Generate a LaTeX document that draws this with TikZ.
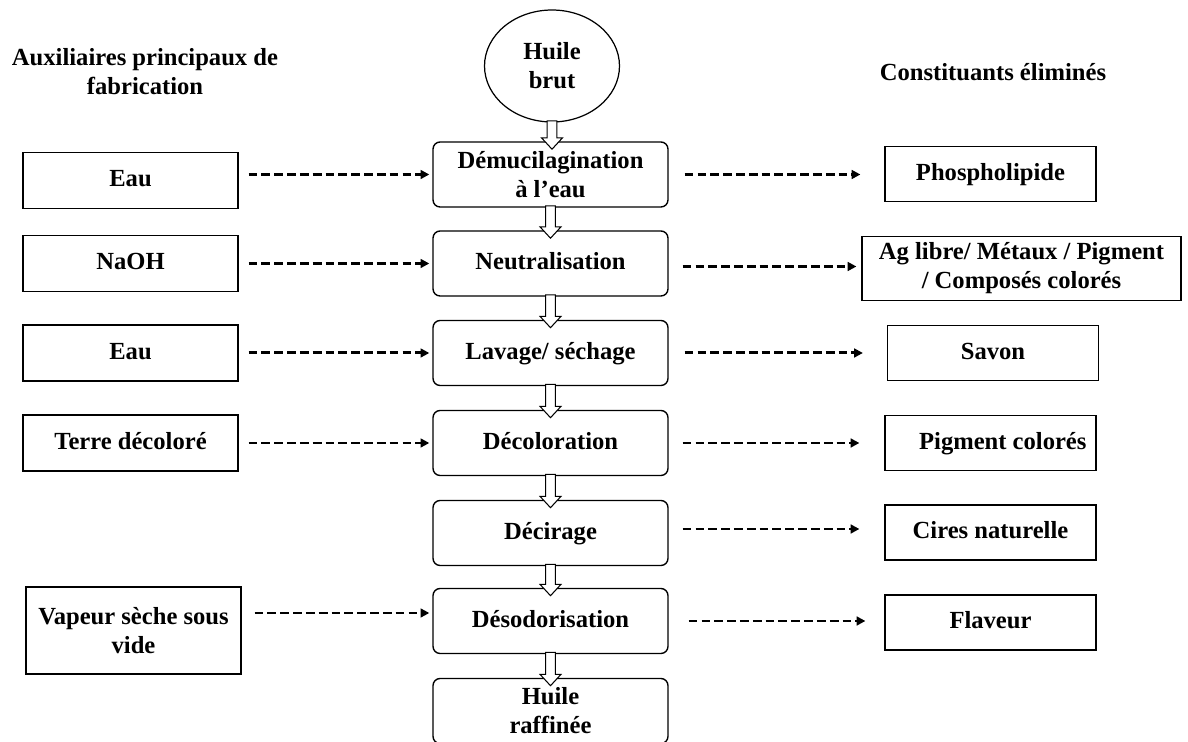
\documentclass[tikz,border=0pt]{standalone}
\usepackage{fontspec}
\setmainfont{Liberation Serif}
\usetikzlibrary{shapes.geometric,arrows.meta,calc}

\newcommand{\hollowarrow}[2]{%
  \draw[hollow] let \p1=(#1.south), \p2=(#2.north) in
    (\x1-2.8pt,\y1+1pt) -- (\x1+2.8pt,\y1+1pt) -- (\x1+2.8pt,\y2+2pt)
    -- (\x1+6pt,\y2+2pt) -- (\x1,\y2-4.5pt) -- (\x1-6pt,\y2+2pt)
    -- (\x1-2.8pt,\y2+2pt) -- cycle;}

\begin{document}
\begin{tikzpicture}[x=0.02cm, y=-0.02cm,
  every node/.style={font=\fontsize{14}{16.5}\selectfont\bfseries},
  title/.style={align=center},
  stage/.style={rectangle, rounded corners=4pt, draw, line width=0.8pt, minimum width=4.7cm, minimum height=1.3cm, text height=2ex, text depth=.5ex, fill=white},
  aux/.style={rectangle, draw, line width=0.7pt, minimum width=4.3cm, minimum height=1.12cm, text height=2ex, text depth=.5ex},
  waste/.style={rectangle, draw, line width=0.7pt, minimum width=4.22cm, minimum height=1.1cm, text height=2ex, text depth=.5ex},
  multi/.style={align=center, text height={}, text depth={}},
  dasharrow/.style={-{Triangle[length=5pt,width=5pt]}, line width=1.7pt, dash pattern=on 5pt off 2.3pt},
  hollow/.style={draw, fill=white, line width=0.6pt}
]
\useasboundingbox (0,0) rectangle (1188,742);

% Titles
\node[title] (auxtitle) at (145,72) {Auxiliaires principaux de\\fabrication};
\node[title] (wastetitle) at (993,72) {Constituants éliminés};

% Main line
\node[ellipse, draw, line width=0.7pt, minimum width=2.7cm, minimum height=2.24cm, align=center] (brut) at (552,66) {Huile\\brut};
\node[stage, multi] (demuc) at (550.5,174.5) {Démucilagination\\à l’eau};
\node[stage] (neutr) at (550.5,263.5) {Neutralisation};
\node[stage] (lavage) at (550.5,353) {Lavage/ séchage};
\node[stage] (decol) at (550.5,443) {Décoloration};
\node[stage] (decir) at (550.5,533) {Décirage};
\node[stage] (desod) at (550.5,621) {Désodorisation};
\node[stage, multi] (raff) at (550.5,711) {Huile\\raffinée};

% Auxiliaries
\node[aux] (eaua) at (130.5,180.5) {Eau};
\node[aux] (naoh) at (130.5,263.5) {NaOH};
\node[aux] (eaub) at (130.5,353) {Eau};
\node[aux] (terre) at (130.5,443) {Terre décoloré};
\node[aux, multi, minimum height=1.74cm] (vapeur) at (133.5,630.5) {Vapeur sèche sous\\vide};

% Removed constituents
\node[waste] (phospho) at (990.5,174) {Phospholipide};
\node[waste, multi, minimum width=6.38cm, minimum height=1.28cm] (aglibre) at (1021.5,268.5) {Ag libre/ Métaux / Pigment\\/ Composés colorés};
\node[waste] (savon) at (993,353) {Savon};
\node[waste] (pigment) at (990.5,443) {\quad Pigment colorés};
\node[waste] (cires) at (990.5,532.5) {Cires naturelle};
\node[waste] (flaveur) at (990.5,622.5) {Flaveur};

% Flow
\hollowarrow{brut}{demuc}
\hollowarrow{demuc}{neutr}
\hollowarrow{neutr}{lavage}
\hollowarrow{lavage}{decol}
\hollowarrow{decol}{decir}
\hollowarrow{decir}{desod}
\hollowarrow{desod}{raff}

% Inputs
\draw[dasharrow, shorten <=10*0.02cm, shorten >=3*0.02cm] (demuc.west -| eaua.east) -- (demuc.west);
\draw[dasharrow, shorten <=10*0.02cm, shorten >=3*0.02cm] (neutr.west -| naoh.east) -- (neutr.west);
\draw[dasharrow, shorten <=10*0.02cm, shorten >=3*0.02cm] (lavage.west -| eaub.east) -- (lavage.west);
\draw[dasharrow, shorten <=10*0.02cm, shorten >=3*0.02cm] (decol.west -| terre.east) -- (decol.west);
\draw[dasharrow, shorten <=13*0.02cm, shorten >=3*0.02cm] ([yshift=0.16cm]desod.west -| vapeur.east) -- ([yshift=0.16cm]desod.west);

% Outputs
\draw[dasharrow, shorten <=16*0.02cm, shorten >=24*0.02cm] (demuc.east) -- (demuc.east -| phospho.west);
\draw[dasharrow, shorten <=14*0.02cm, shorten >=5*0.02cm] ([yshift=-0.06cm]neutr.east) -- ([yshift=-0.06cm]neutr.east -| aglibre.west);
\draw[dasharrow, shorten <=16*0.02cm, shorten >=24*0.02cm] (lavage.east) -- (lavage.east -| savon.west);
\draw[dasharrow, shorten <=14*0.02cm, shorten >=25*0.02cm] (decol.east) -- (decol.east -| pigment.west);
\draw[dasharrow, shorten <=14*0.02cm, shorten >=25*0.02cm] ([yshift=0.08cm]decir.east) -- ([yshift=0.08cm]decir.east -| cires.west);
\draw[dasharrow, shorten <=20*0.02cm, shorten >=19*0.02cm] (desod.east) -- (desod.east -| flaveur.west);

\end{tikzpicture}
\end{document}
